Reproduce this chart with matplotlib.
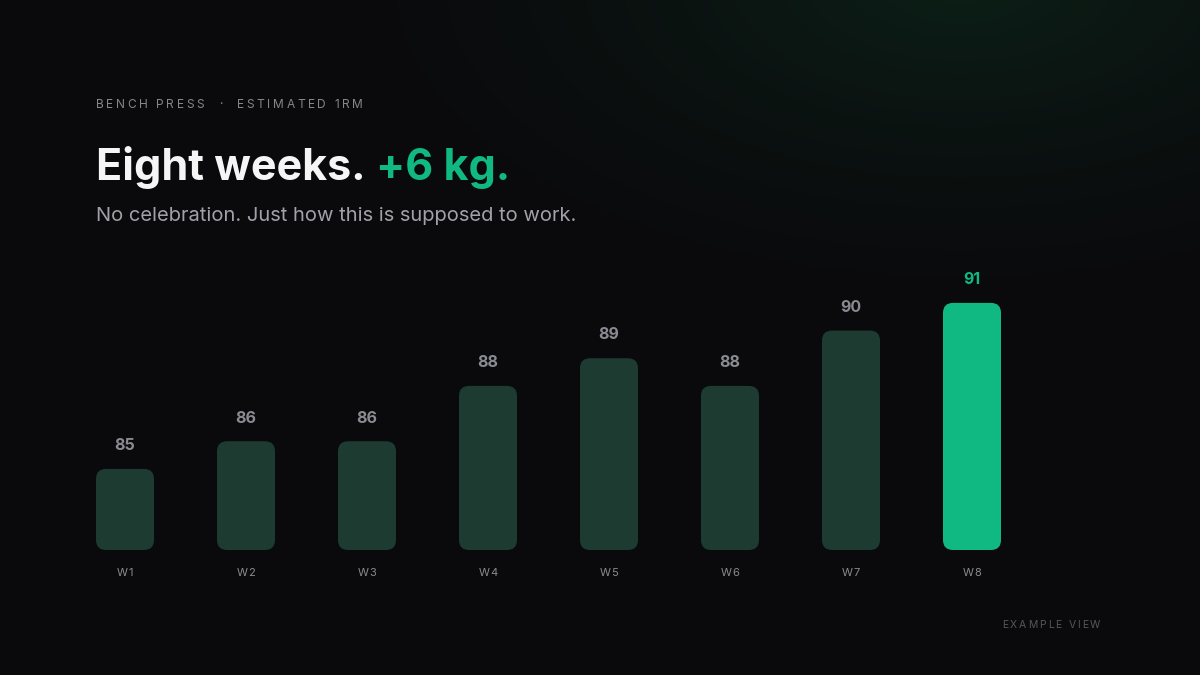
import matplotlib
matplotlib.use("Agg")
import matplotlib.pyplot as plt
import numpy as np
from matplotlib.patches import FancyBboxPatch
from matplotlib.font_manager import FontProperties
from matplotlib.colors import to_rgb

weeks = ["W1", "W2", "W3", "W4", "W5", "W6", "W7", "W8"]
one_rm = [85, 86, 86, 88, 89, 88, 90, 91]

W, H, DPI = 1200, 675, 100
BG = "#0a0a0c"
BAR = "#1d3b31"
GREEN = "#10b981"
GRAY = "#8a8a92"

plt.rcParams["font.family"] = ["Inter", "DejaVu Sans"]

fig = plt.figure(figsize=(W / DPI, H / DPI), dpi=DPI, facecolor=BG)

# background with a faint green glow in the upper right
bg = fig.add_axes([0, 0, 1, 1])
bg.set_axis_off()
yy, xx = np.mgrid[0:H, 0:W]
d = np.sqrt(((xx - 960) / 650.0) ** 2 + ((yy + 20) / 340.0) ** 2)
glow = np.clip(1 - d, 0, 1) ** 1.5
base = np.array(to_rgb(BG))
tint = np.array(to_rgb("#0c1f17"))
img = base[None, None, :] + glow[..., None] * (tint - base)[None, None, :]
bg.imshow(img, extent=[0, W, H, 0], aspect="auto", zorder=0)
bg.set_xlim(0, W)
bg.set_ylim(H, 0)

renderer = fig.canvas.get_renderer()


def text_w(s, size, weight="normal"):
    prop = FontProperties(family=["Inter", "DejaVu Sans"], size=size, weight=weight)
    w1, _, _ = renderer.get_text_width_height_descent("|" + s + "|", prop, ismath=False)
    w0, _, _ = renderer.get_text_width_height_descent("||", prop, ismath=False)
    return w1 - w0


def tracked(x, y, s, size, color, track, weight="normal", center=False):
    # letter-spaced text, placed char by char (x, y in pixels from top-left)
    if center:
        x = x - (text_w(s, size, weight) + (len(s) - 1) * track) / 2
    for i, ch in enumerate(s):
        off = text_w(s[:i], size, weight) + i * track
        fig.text((x + off) / W, 1 - y / H, ch, fontsize=size, color=color,
                 weight=weight, ha="left", va="baseline")


# header texts
tracked(96, 108, "BENCH PRESS  ·  ESTIMATED 1RM", 8.6, "#85858c", 2.6)

t1 = "Eight weeks."
fig.text(96 / W, 1 - 180 / H, t1, fontsize=31, weight="bold", color="#f5f5f5",
         ha="left", va="baseline")
w_t1 = text_w(t1 + " ", 31, "bold")
fig.text((96 + w_t1) / W, 1 - 180 / H, "+6 kg.", fontsize=31, weight="bold",
         color=GREEN, ha="left", va="baseline")

fig.text(96 / W, 1 - 221 / H, "No celebration. Just how this is supposed to work.",
         fontsize=14.5, color="#a1a1aa", ha="left", va="baseline")

tracked(1002, 628, "EXAMPLE VIEW", 7.5, "#55555c", 1.9)

# bar chart
y0, y1 = 82.07, 92.0
ax_h = (y1 - y0) * 27.67
ax = fig.add_axes([64.5 / W, 125 / H, 968 / W, ax_h / H])
ax.set_facecolor("none")
ax.set_xlim(-0.5, 7.5)
ax.set_ylim(y0, y1)
ax.set_axis_off()

bw = 58 / 121
r = 10 / 121
asp = (10 / 27.67) / r
for i, v in enumerate(one_rm):
    last = i == len(one_rm) - 1
    col = GREEN if last else BAR
    p = FancyBboxPatch((i - bw / 2, y0), bw, v - y0,
                       boxstyle="round,pad=0,rounding_size=%f" % r,
                       mutation_aspect=asp, fc=col, ec="none", zorder=2)
    ax.add_patch(p)
    ax.annotate(str(v), (i, v), xytext=(0, 13.5), textcoords="offset points",
                ha="center", va="baseline", fontsize=11.5, weight="bold",
                color=GREEN if last else GRAY, annotation_clip=False)
    px, py = ax.transData.transform((i, y0))
    tracked(px, H - py + 26.5, weeks[i], 8.0, "#8a8a90", 0.7, center=True)

fig.savefig("out.png", dpi=DPI, facecolor=BG)
